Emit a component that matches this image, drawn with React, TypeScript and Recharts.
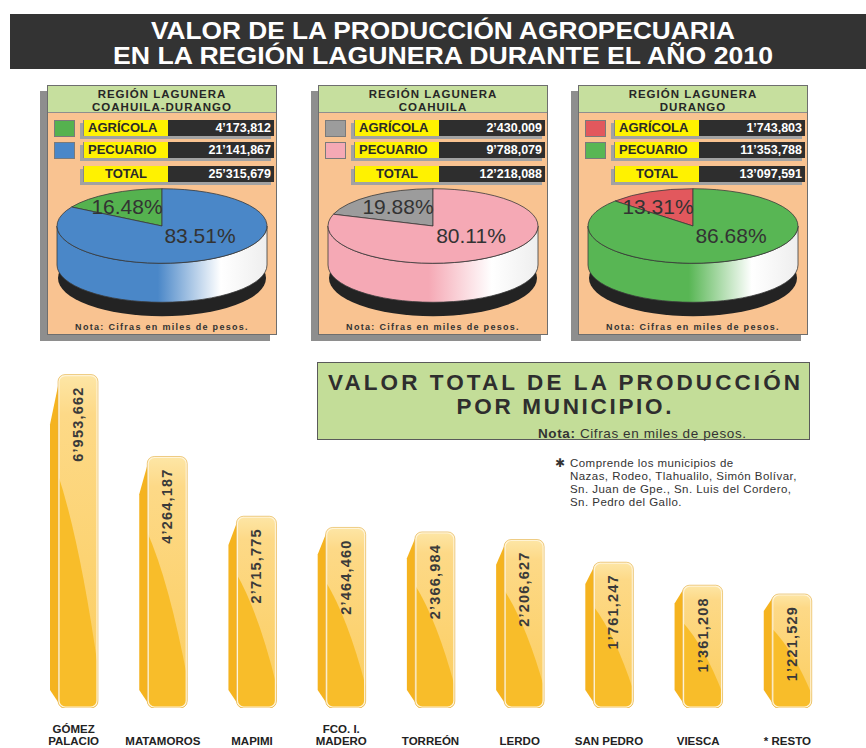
import { BarChart, Bar, XAxis, YAxis, LabelList, PieChart, Pie, Cell } from 'recharts';

const FONT = '"Liberation Sans", Arial, Helvetica, sans-serif';

// Valores en miles de pesos
const sectorNames = ['AGRÍCOLA', 'PECUARIO'];
const regionTitles = [
  ['REGIÓN LAGUNERA', 'COAHUILA-DURANGO'],
  ['REGIÓN LAGUNERA', 'COAHUILA'],
  ['REGIÓN LAGUNERA', 'DURANGO'],
];
const valoresCoahuilaDurango = [4173812, 21141867];
const valoresCoahuila = [2430009, 9788079];
const valoresDurango = [1743803, 11353788];
const coloresCoahuilaDurango = ['#55b24f', '#4a87c8'];
const coloresCoahuila = ['#9c9c9c', '#f5a9b5'];
const coloresDurango = ['#e2585d', '#58b654'];

const municipios = [
  'GÓMEZ\nPALACIO',
  'MATAMOROS',
  'MAPIMI',
  'FCO. I.\nMADERO',
  'TORREÓN',
  'LERDO',
  'SAN PEDRO',
  'VIESCA',
  '* RESTO',
];
const valoresMunicipio = [6953662, 4264187, 2715775, 2464460, 2366984, 2206627, 1761247, 1361208, 1221529];

const notaRestos = [
  'Comprende los municipios de',
  'Nazas, Rodeo, Tlahualilo, Simón Bolívar,',
  'Sn. Juan de Gpe., Sn. Luis del Cordero,',
  'Sn. Pedro del Gallo.',
];

const RAD = Math.PI / 180;
const RY = 0.355; // aplanado de la elipse
const DEPTH = 39;

const p3 = (n: number) => String(n).padStart(3, '0');
const miles = (v: number) => {
  const m = Math.floor(v / 1e6);
  const k = Math.floor((v % 1e6) / 1000);
  const u = v % 1000;
  return m > 0 ? `${m}’${p3(k)},${p3(u)}` : `${k},${p3(u)}`;
};

const pt = (cx: number, cy: number, rx: number, ry: number, a: number) =>
  [cx + rx * Math.cos(a * RAD), cy - ry * Math.sin(a * RAD)];

// sector "3D": pared frontal + cara superior elíptica
function Slice3D(props: any) {
  const { cx, cy, outerRadius, startAngle, endAngle, fill } = props;
  const rx = outerRadius;
  const ry = rx * RY;
  const a0 = Math.min(startAngle, endAngle);
  const a1 = Math.max(startAngle, endAngle);
  const gid = `wall-${String(fill).replace('#', '')}`;

  const walls: number[][] = [];
  for (const [w0, w1] of [[180, 360], [540, 720]]) {
    const b0 = Math.max(a0, w0);
    const b1 = Math.min(a1, w1);
    if (b1 > b0) walls.push([b0, b1]);
  }

  const s = pt(cx, cy, rx, ry, a0);
  const e = pt(cx, cy, rx, ry, a1);
  const large = a1 - a0 > 180 ? 1 : 0;
  const top = `M${cx},${cy} L${s[0]},${s[1]} A${rx},${ry} 0 ${large} 0 ${e[0]},${e[1]} Z`;

  return (
    <g>
      <defs>
        <linearGradient id={gid} gradientUnits="userSpaceOnUse" x1={cx - rx} x2={cx + rx} y1={0} y2={0}>
          <stop offset="0" stopColor={fill} />
          <stop offset="0.48" stopColor={fill} />
          <stop offset="0.78" stopColor="#ffffff" />
          <stop offset="1" stopColor="#eeeeee" />
        </linearGradient>
      </defs>
      {walls.map(([b0, b1], i) => {
        const p = pt(cx, cy, rx, ry, b0);
        const q = pt(cx, cy, rx, ry, b1);
        const d = `M${p[0]},${p[1]} A${rx},${ry} 0 0 0 ${q[0]},${q[1]} L${q[0]},${q[1] + DEPTH} A${rx},${ry} 0 0 1 ${p[0]},${p[1] + DEPTH} Z`;
        return <path key={i} d={d} fill={`url(#${gid})`} stroke="#3a3a3a" strokeWidth={0.8} />;
      })}
      <path d={top} fill={fill} stroke="#3a3a3a" strokeWidth={0.8} />
    </g>
  );
}

function Shadow3D(props: any) {
  const { cx, cy, outerRadius } = props;
  return <ellipse cx={cx} cy={cy + 52} rx={outerRadius - 1} ry={outerRadius * RY + 1} fill="#232323" />;
}

const pctLabel = (props: any) => {
  const { cx, cy, index, percent } = props;
  const off = index === 0 ? [-35, -20] : [38, 9];
  const txt = (Math.floor(percent * 10000) / 100).toFixed(2) + '%';
  return (
    <text x={cx + off[0]} y={cy + off[1]} textAnchor="middle" dominantBaseline="central"
      fontFamily={FONT} fontSize={21} fill="#333">
      {txt}
    </text>
  );
};

function Row({ top, label, value, color, center }: any) {
  return (
    <>
      {color && (
        <div style={{ position: 'absolute', left: 6, top, width: 19, height: 15, background: color, border: '1px solid #7a7a7a' }} />
      )}
      <div style={{ position: 'absolute', left: 35, top, width: 191, height: 16, display: 'flex', boxShadow: '-3px 3px 0 #a2a2a2' }}>
        <div style={{ width: 85, background: '#fff200', color: '#2a2a2a', fontWeight: 'bold', fontSize: 13, lineHeight: '16px', paddingLeft: center ? 0 : 4, textAlign: center ? 'center' : 'left', boxSizing: 'border-box', borderLeft: '1px solid #888' }}>
          {label}
        </div>
        <div style={{ flex: 1, background: '#2e2e2e', color: '#fff', fontWeight: 'bold', fontSize: 12.5, lineHeight: '16px', textAlign: 'right', paddingRight: 3 }}>
          {value}
        </div>
      </div>
    </>
  );
}

function RegionBox({ left, title, values, colors }: any) {
  const W = 230;
  const total = values[0] + values[1];
  const data = sectorNames.map((name, i) => ({ name, value: values[i] }));
  const totalData = [{ name: 'TOTAL', value: total }];
  return (
    <div style={{ position: 'absolute', left, top: 85, width: W, height: 250, background: '#f9c391', border: '1px solid #6e6e6e', boxShadow: '-7px 6px 0 #8e8e8e', boxSizing: 'border-box', fontFamily: FONT }}>
      <div style={{ height: 27, background: '#c6df9e', borderBottom: '1px solid #8e8e8e', textAlign: 'center', fontWeight: 'bold', fontSize: 11.5, lineHeight: '12.5px', letterSpacing: 1, color: '#262626', paddingTop: 2, boxSizing: 'border-box' }}>
        <div>{title[0]}</div>
        <div>{title[1]}</div>
      </div>
      {sectorNames.map((s, i) => (
        <Row key={s} top={34 + i * 22} label={s} value={miles(values[i])} color={colors[i]} />
      ))}
      <Row top={80} label="TOTAL" value={miles(total)} center />
      <div style={{ position: 'absolute', left: 0, top: 99 }}>
        <PieChart width={W - 2} height={150} margin={{ top: 0, right: 0, bottom: 0, left: 0 }}>
          <Pie data={totalData} dataKey="value" cx="50%" cy={41} outerRadius={105}
            startAngle={90} endAngle={450} isAnimationActive={false} shape={Shadow3D} stroke="none" fill="#232323" />
          <Pie data={data} dataKey="value" cx="50%" cy={41} outerRadius={105}
            startAngle={90} endAngle={450} isAnimationActive={false} shape={Slice3D}
            label={pctLabel} labelLine={false}>
            {data.map((d, i) => (
              <Cell key={d.name} fill={colors[i]} />
            ))}
          </Pie>
        </PieChart>
      </div>
      <div style={{ position: 'absolute', left: 0, width: '100%', top: 236, textAlign: 'center', fontWeight: 'bold', fontSize: 9, letterSpacing: 1.3, color: '#333' }}>
        Nota: Cifras en miles de pesos.
      </div>
    </div>
  );
}

// barra con cara lateral y frente redondeado
function BarShape(props: any) {
  const { x, y, width, height, index } = props;
  if (!height || height <= 0) return null;
  const side = 8;
  const fx = x + side;
  const fw = width - side;
  const topCut = height * 0.15;
  const botCut = 18;
  const cid = `barclip-${index}`;
  const sidePath = `M${fx + 2},${y + 2} L${x},${y + topCut} L${x},${y + height - botCut} L${fx + 4},${y + height} Z`;
  const dark = `M${fx},${y + height * 0.3} Q${fx + fw * 0.55},${y + height * 0.5} ${fx + fw},${y + height * 0.88} L${fx + fw},${y + height} L${fx},${y + height} Z`;
  return (
    <g>
      <defs>
        <linearGradient id="barFront" x1="0" y1="0" x2="0" y2="1">
          <stop offset="0" stopColor="#fde6a6" />
          <stop offset="0.12" stopColor="#fdd987" />
          <stop offset="1" stopColor="#fbcd5e" />
        </linearGradient>
        <clipPath id={cid}>
          <rect x={fx} y={y} width={fw} height={height} rx={7} />
        </clipPath>
      </defs>
      <path d={sidePath} fill="#f5b31f" />
      <rect x={fx} y={y} width={fw} height={height} rx={7} fill="url(#barFront)" />
      <path d={dark} fill="#f8bd2a" clipPath={`url(#${cid})`} />
      <rect x={fx + 0.8} y={y + 0.8} width={fw - 1.6} height={height - 1.6} rx={6.5} fill="none" stroke="#fff4d8" strokeWidth={1.6} />
      <rect x={fx} y={y} width={fw} height={height} rx={7} fill="none" stroke="#e2b04a" strokeWidth={0.6} />
    </g>
  );
}

const valueLabel = (props: any) => {
  const { x, y, width, value } = props;
  const cx = x + 8 + (width - 8) / 2;
  const ty = y + 12;
  return (
    <text x={cx} y={ty} transform={`rotate(-90 ${cx} ${ty})`} textAnchor="end" dominantBaseline="central"
      fontFamily={FONT} fontWeight="bold" fontSize={14.5} letterSpacing={1.2} fill="#3a3a3a">
      {miles(value)}
    </text>
  );
};

const MuniTick = (props: any) => {
  const { x, y, payload } = props;
  const lines = String(payload.value).split('\n');
  const last = y + 29;
  return (
    <g>
      {lines.map((l, i) => (
        <text key={i} x={x} y={last - (lines.length - 1 - i) * 12} textAnchor="middle"
          fontFamily={FONT} fontWeight="bold" fontSize={11.5} fill="#222">
          {l}
        </text>
      ))}
    </g>
  );
};

export default function App() {
  const barData = municipios.map((m, i) => ({ municipio: m, valor: valoresMunicipio[i] }));
  return (
    <div style={{ position: 'absolute', left: 0, top: 0, width: 866, height: 748, background: '#fff', overflow: 'hidden', fontFamily: FONT }}>
      <svg width={866} height={748} style={{ position: 'absolute', left: 0, top: 0 }}>
        <rect x={10} y={14} width={856} height={55} fill="#333" />
        <text x={443} y={39} textAnchor="middle" fontFamily={FONT} fontWeight="bold" fontSize={23.5} fill="#fff"
          textLength={584} lengthAdjust="spacingAndGlyphs">
          VALOR DE LA PRODUCCIÓN AGROPECUARIA
        </text>
        <text x={443} y={64} textAnchor="middle" fontFamily={FONT} fontWeight="bold" fontSize={23.5} fill="#fff"
          textLength={660} lengthAdjust="spacingAndGlyphs">
          EN LA REGIÓN LAGUNERA DURANTE EL AÑO 2010
        </text>

        <rect x={317.5} y={362.5} width={492} height={77} fill="#c3dd98" stroke="#5a5a5a" strokeWidth={1} />
        <text x={564} y={390} textAnchor="middle" fontFamily={FONT} fontWeight="bold" fontSize={22.5} fill="#2e2e2e"
          textLength={472} lengthAdjust="spacing">
          VALOR TOTAL DE LA PRODUCCIÓN
        </text>
        <text x={564} y={414} textAnchor="middle" fontFamily={FONT} fontWeight="bold" fontSize={22.5} fill="#2e2e2e"
          textLength={215} lengthAdjust="spacing">
          POR MUNICIPIO.
        </text>
        <text x={538} y={438} fontFamily={FONT} fontSize={13.5} fill="#333" textLength={208} lengthAdjust="spacing">
          <tspan fontWeight="bold">Nota:</tspan> Cifras en miles de pesos.
        </text>

        <text x={555} y={467} fontFamily={FONT} fontSize={12} fill="#333">✱</text>
        {notaRestos.map((t, i) => (
          <text key={i} x={570} y={467 + i * 13} fontFamily={FONT} fontSize={11.5} letterSpacing={0.45} fill="#333">
            {t}
          </text>
        ))}
      </svg>

      <RegionBox left={47} title={regionTitles[0]} values={valoresCoahuilaDurango} colors={coloresCoahuilaDurango} />
      <RegionBox left={318} title={regionTitles[1]} values={valoresCoahuila} colors={coloresCoahuila} />
      <RegionBox left={578} title={regionTitles[2]} values={valoresDurango} colors={coloresDurango} />

      <div style={{ position: 'absolute', left: 0, top: 340 }}>
        <BarChart width={866} height={408} data={barData} margin={{ top: 20, right: 34, left: 29, bottom: 10 }} barSize={48}>
          <XAxis dataKey="municipio" axisLine={false} tickLine={false} interval={0} height={30} tick={MuniTick} />
          <YAxis hide type="number" scale="sqrt" domain={[95700, 7500000]} allowDataOverflow />
          <Bar dataKey="valor" isAnimationActive={false} shape={BarShape}>
            <LabelList dataKey="valor" content={valueLabel} />
          </Bar>
        </BarChart>
      </div>
    </div>
  );
}
